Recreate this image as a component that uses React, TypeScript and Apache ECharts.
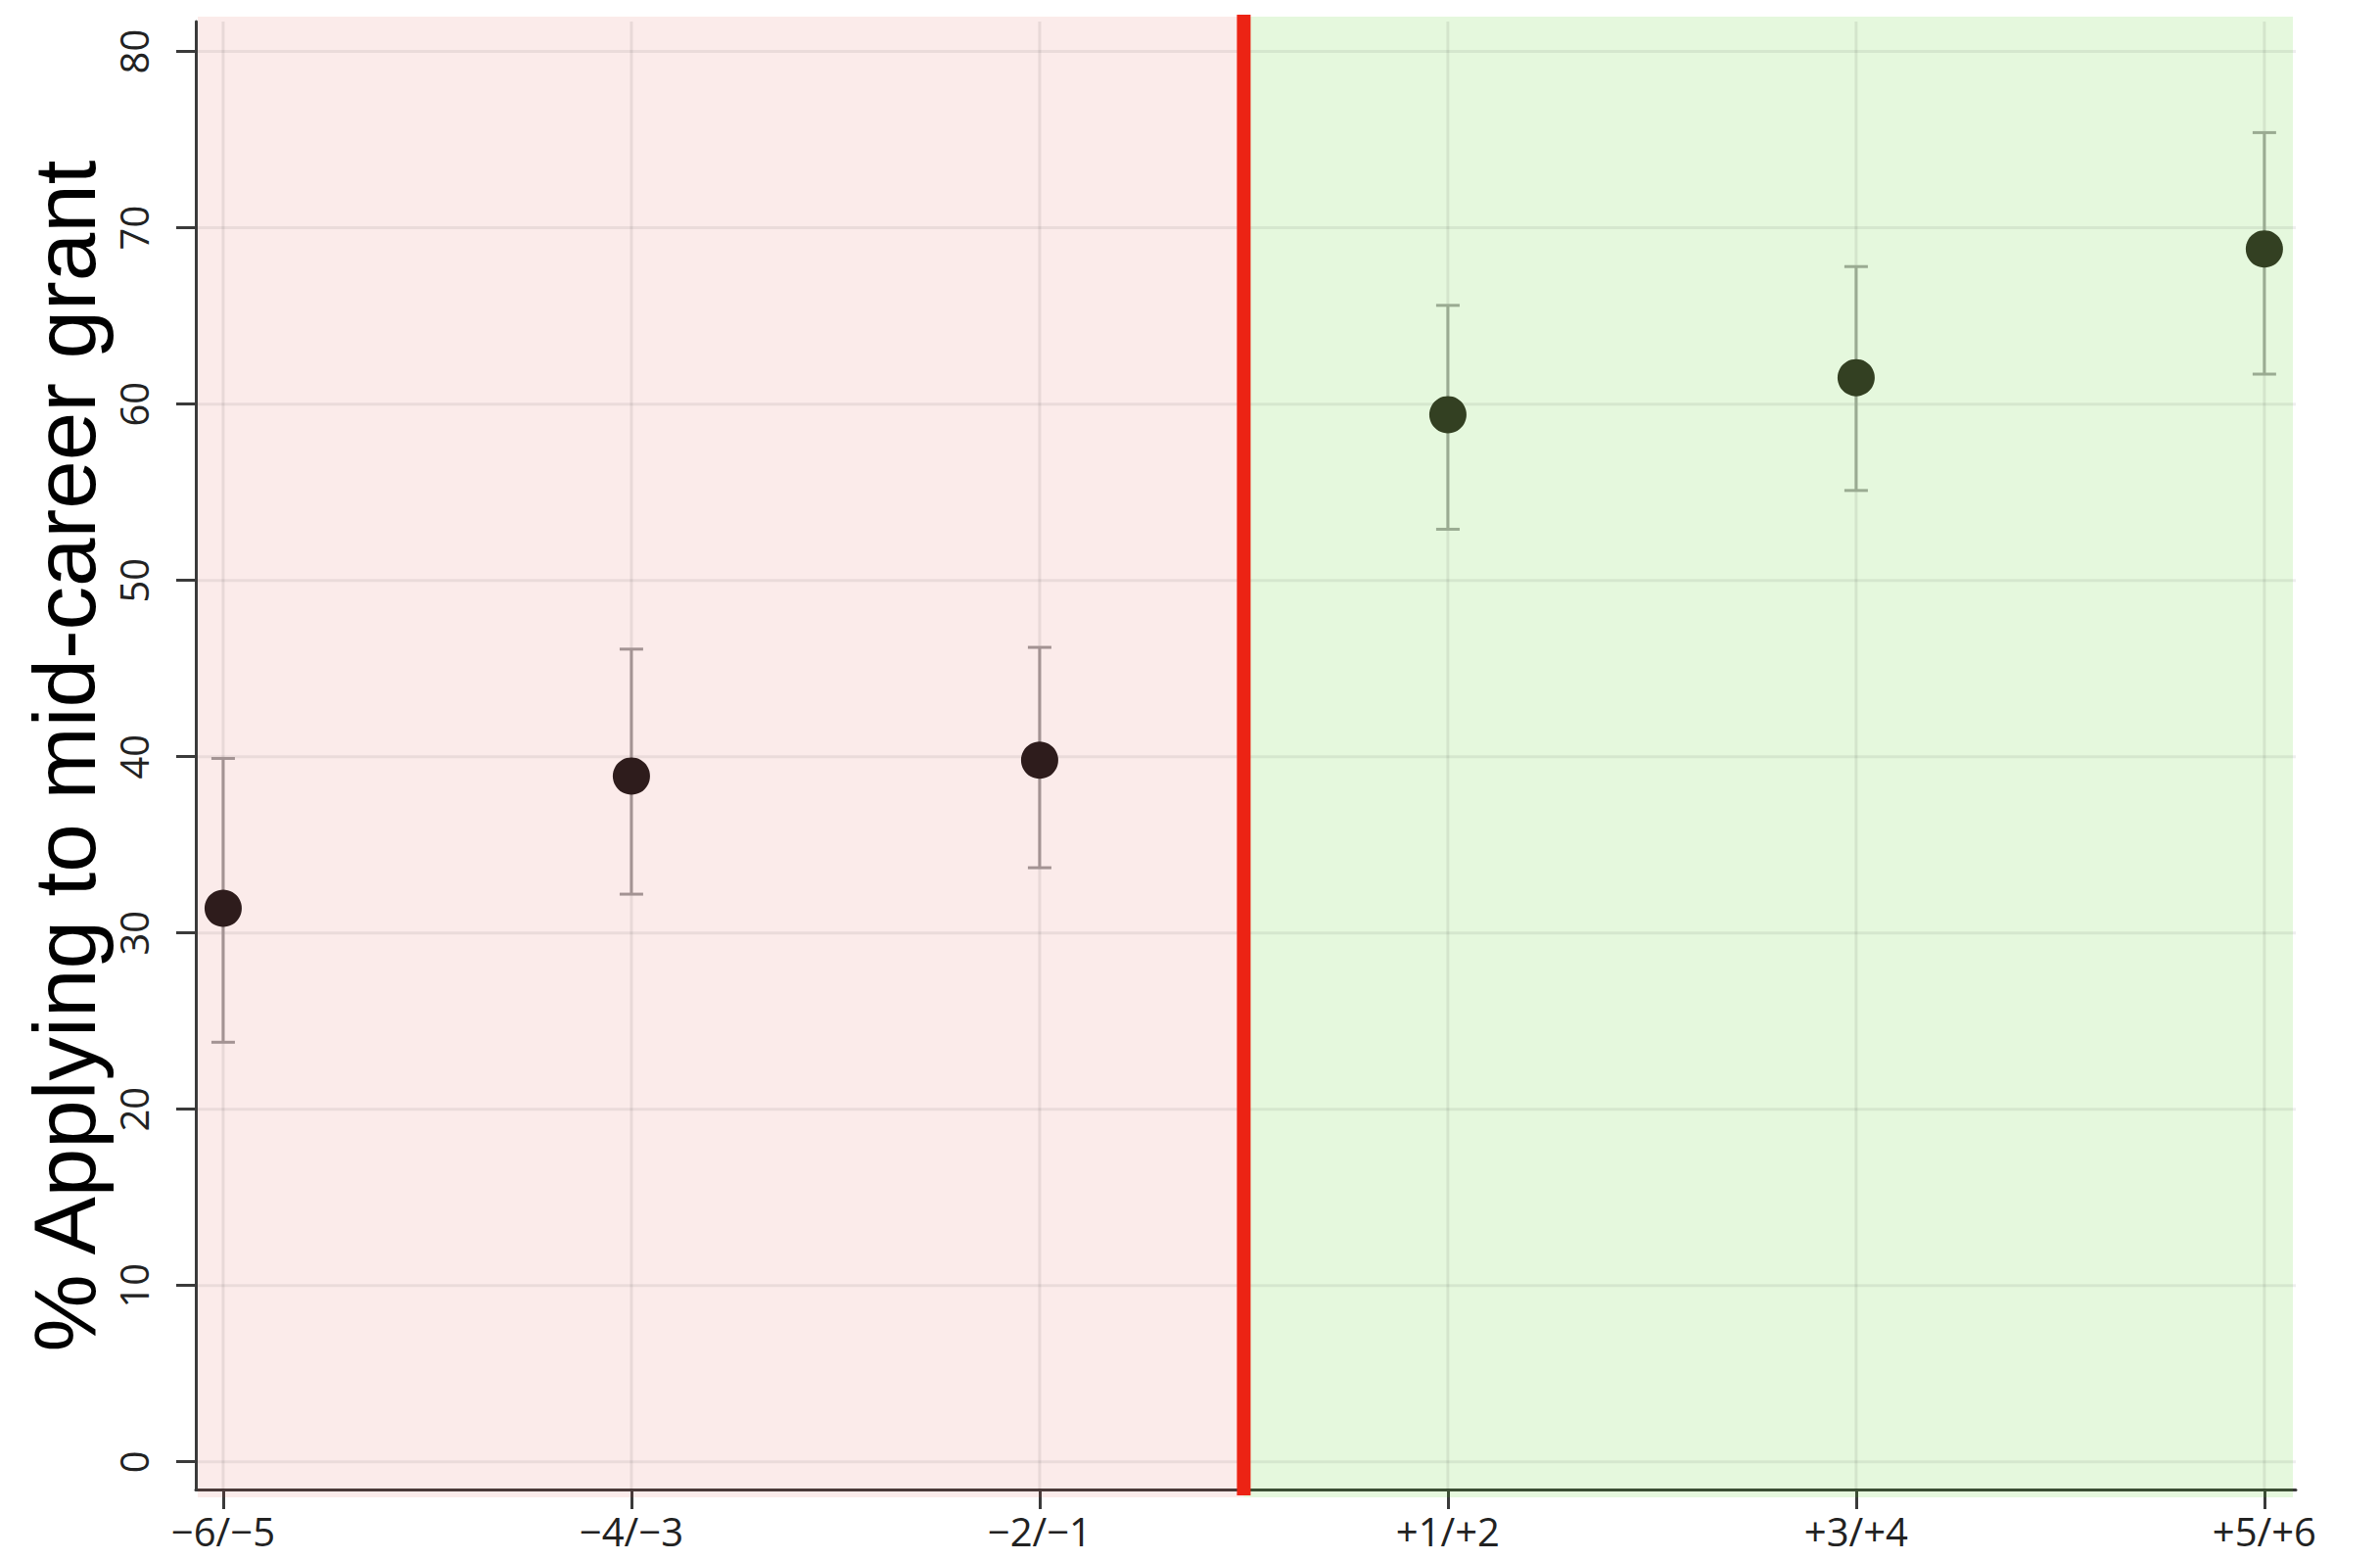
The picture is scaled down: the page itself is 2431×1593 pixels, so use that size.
import React, { useEffect, useRef } from "react";
import * as echarts from "echarts";

// ---- data ----
const periods = ["−6/−5", "−4/−3", "−2/−1", "+1/+2", "+3/+4", "+5/+6"];
const pointValues = [31.4, 38.9, 39.8, 59.4, 61.5, 68.8];
const ciLow = [23.8, 32.2, 33.7, 52.9, 55.1, 61.7];
const ciHigh = [39.9, 46.1, 46.2, 65.6, 67.8, 75.4];
const yTickValues = [0, 10, 20, 30, 40, 50, 60, 70, 80];
const xTickValues = [0, 1, 2, 3, 4, 5];
const thresholdPosition = 2.5; // red line between −2/−1 and +1/+2
const yAxisTitle = "% Applying to mid-career grant";

const PRE_BG = "rgba(215,55,45,0.1)";
const POST_BG = "rgba(69,205,12,0.14)";
const PRE_DOT = "#2e1c1c";
const POST_DOT = "#334022";
const PRE_BAR = "#a39393";
const POST_BAR = "#9aab92";
const AXIS_COLOR = "#3a3a3a";
const GRID_COLOR = "rgba(0,0,0,0.065)";

export default function App() {
  const ref = useRef<HTMLDivElement>(null);

  useEffect(() => {
    if (!ref.current) return;
    const chart = echarts.init(ref.current, undefined, { renderer: "svg" });

    const option: any = {
      animation: false,
      backgroundColor: "#ffffff",
      grid: { left: 200, right: 86, top: 22, bottom: 72, containLabel: false },
      xAxis: {
        type: "value",
        min: -0.067,
        max: 5.077,
        axisLine: { show: true, onZero: false, lineStyle: { color: AXIS_COLOR, width: 3 } },
        axisTick: {
          show: true,
          length: 20,
          customValues: xTickValues,
          lineStyle: { color: AXIS_COLOR, width: 3 },
        },
        axisLabel: {
          customValues: xTickValues,
          formatter: (v: number) => periods[Math.round(v)] ?? "",
          margin: 25,
          fontSize: 40,
          lineHeight: 34,
          fontFamily: "Open Sans",
          color: "#222222",
        },
        splitLine: { show: false },
      },
      yAxis: {
        type: "value",
        min: -1.57,
        max: 81.7,
        axisLine: { show: true, onZero: false, lineStyle: { color: AXIS_COLOR, width: 3 } },
        axisTick: {
          show: true,
          length: 20,
          customValues: yTickValues,
          lineStyle: { color: AXIS_COLOR, width: 3 },
        },
        axisLabel: {
          customValues: yTickValues,
          rotate: 90,
          margin: 44,
          fontSize: 40,
          fontFamily: "Open Sans",
          color: "#222222",
        },
        splitLine: { show: false },
      },
      graphic: [
        {
          type: "text",
          x: 66,
          y: 772,
          rotation: Math.PI / 2,
          style: {
            text: yAxisTitle,
            fontSize: 89,
            fontFamily: "Liberation Sans",
            fill: "#000000",
            align: "center",
            verticalAlign: "middle",
          },
        },
      ],
      series: [
        {
          type: "custom",
          name: "background",
          coordinateSystem: "cartesian2d",
          clip: false,
          z: 1,
          silent: true,
          data: [[0, 0]],
          renderItem: (params: any, api: any) => {
            const cs = params.coordSys;
            const splitX = api.coord([thresholdPosition, 0])[0];
            const left = cs.x + 2;
            const right = cs.x + cs.width - 3;
            const top = cs.y - 5;
            const bottom = cs.y + cs.height + 8;
            const children: any[] = [
              { type: "rect", shape: { x: left, y: top, width: splitX - left, height: bottom - top }, style: { fill: PRE_BG } },
              { type: "rect", shape: { x: splitX, y: top, width: right - splitX, height: bottom - top }, style: { fill: POST_BG } },
            ];
            yTickValues.forEach((v) => {
              const y = api.coord([0, v])[1];
              children.push({
                type: "line",
                shape: { x1: cs.x + 2, y1: y, x2: cs.x + cs.width, y2: y },
                style: { stroke: GRID_COLOR, lineWidth: 3 },
              });
            });
            xTickValues.forEach((v) => {
              const x = api.coord([v, 0])[0];
              children.push({
                type: "line",
                shape: { x1: x, y1: cs.y, x2: x, y2: cs.y + cs.height },
                style: { stroke: "rgba(0,0,0,0.075)", lineWidth: 3 },
              });
            });
            children.push({
              type: "line",
              shape: { x1: splitX, y1: cs.y - 7, x2: splitX, y2: cs.y + cs.height + 6 },
              style: { stroke: "#ec2314", lineWidth: 14 },
            });
            return { type: "group", children };
          },
        },
        {
          type: "custom",
          name: "ci",
          coordinateSystem: "cartesian2d",
          clip: false,
          z: 3,
          data: periods.map((_, i) => [xTickValues[i], ciLow[i], ciHigh[i]]),
          renderItem: (params: any, api: any) => {
            const xv = api.value(0);
            const lo = api.coord([xv, api.value(1)]);
            const hi = api.coord([xv, api.value(2)]);
            const color = xv > thresholdPosition ? POST_BAR : PRE_BAR;
            const hw = 12;
            const st = { stroke: color, lineWidth: 3 };
            return {
              type: "group",
              children: [
                { type: "line", shape: { x1: lo[0], y1: lo[1], x2: hi[0], y2: hi[1] }, style: st },
                { type: "line", shape: { x1: lo[0] - hw, y1: lo[1], x2: lo[0] + hw, y2: lo[1] }, style: st },
                { type: "line", shape: { x1: hi[0] - hw, y1: hi[1], x2: hi[0] + hw, y2: hi[1] }, style: st },
              ],
            };
          },
        },
        {
          type: "scatter",
          name: "mean",
          z: 4,
          symbol: "circle",
          symbolSize: 38,
          data: pointValues.map((v, i) => ({
            value: [xTickValues[i], v],
            itemStyle: { color: xTickValues[i] > thresholdPosition ? POST_DOT : PRE_DOT, opacity: 1 },
          })),
        },
      ],
    };

    chart.setOption(option);
    return () => chart.dispose();
  }, []);

  return (
    <div
      ref={ref}
      style={{ position: "fixed", left: 0, top: 0, width: 2431, height: 1593, background: "#fff" }}
    />
  );
}
